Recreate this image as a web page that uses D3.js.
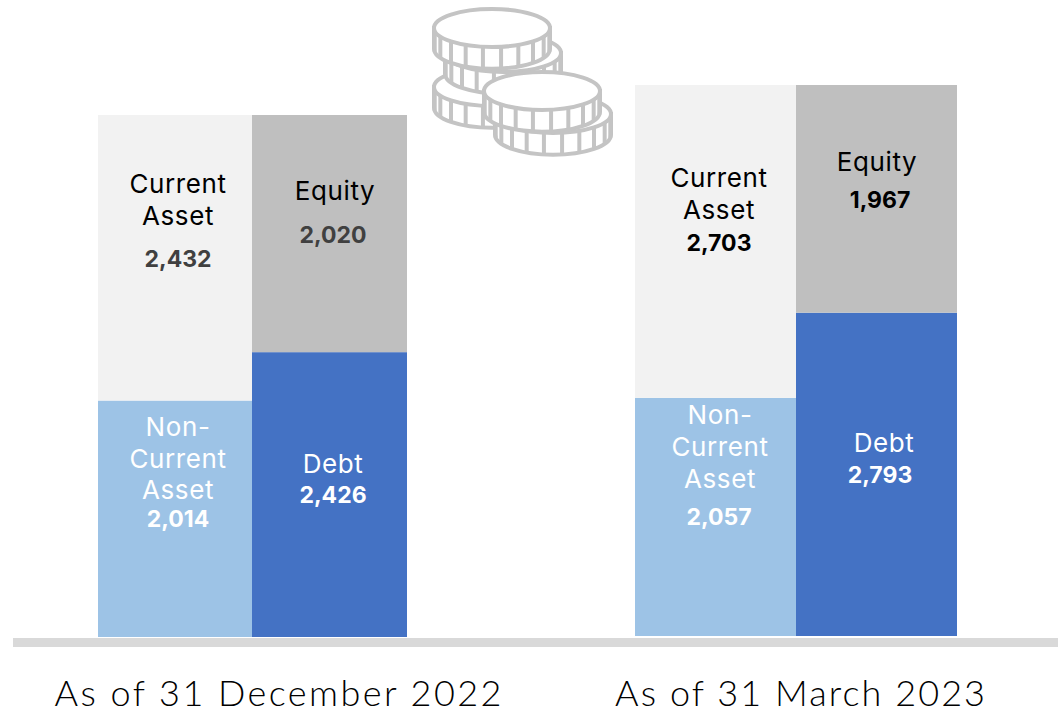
<!DOCTYPE html>
<html><head><meta charset="utf-8">
<script src="https://cdn.jsdelivr.net/npm/d3@7"></script>
<style>html,body{margin:0;background:#fff}svg{display:block}text{font-family:Inter,"Open Sans",sans-serif;text-anchor:middle}</style>
</head><body><svg id="c" width="1058" height="714"></svg>
<script>
const periods = ["As of 31 December 2022", "As of 31 March 2023"];
const nonCurrentAsset = [2014, 2057];
const currentAsset = [2432, 2703];
const debt = [2426, 2793];
const equity = [2020, 1967];
const colors = {cur:"#f2f2f2", non:"#9dc3e6", eq:"#bfbfbf", debt:"#4472c4"};

const svg = d3.select("#c");
const fmt = d3.format(",");
// The two panels in the reference are pasted at slightly different scales
const frames = [
  {y:d3.scaleLinear().domain([0,nonCurrentAsset[0]+currentAsset[0]]).range([637,115]), x0:98, xm:252, x1:407, lx:178, rx:335},
  {y:d3.scaleLinear().domain([0,nonCurrentAsset[1]+currentAsset[1]]).range([636,85]), x0:635, xm:796, x1:957, lx:719, rx:877}
];
const labelLayout = [
  {cur:[["Current",193],["Asset",225]],curV:[267,"#404040"],eq:[["Equity",200]],eqV:[243,"#404040"],
   non:[["Non-",436],["Current",468],["Asset",499]],nonV:527,debt:[["Debt",473]],debtV:503,nx:178,dx:333},
  {cur:[["Current",187],["Asset",219]],curV:[251,"#000"],eq:[["Equity",171]],eqV:[208,"#000"],
   non:[["Non-",424],["Current",456],["Asset",488]],nonV:525,debt:[["Debt",452]],debtV:483,nx:720,dx:880}
];
periods.forEach((p,i)=>{
  const f=frames[i], y=f.y, L=labelLayout[i];
  const total=nonCurrentAsset[i]+currentAsset[i];
  const segs=[
    [f.x0,f.xm,0,nonCurrentAsset[i],colors.non],
    [f.x0,f.xm,nonCurrentAsset[i],total,colors.cur],
    [f.xm,f.x1,0,debt[i],colors.debt],
    [f.xm,f.x1,debt[i],debt[i]+equity[i],colors.eq]
  ];
  svg.append("g").selectAll("rect").data(segs).join("rect")
    .attr("x",d=>d[0]).attr("width",d=>d[1]-d[0])
    .attr("y",d=>y(d[3])).attr("height",d=>y(d[2])-y(d[3])).attr("fill",d=>d[4]);
  const t=(s,x,yy,fill)=>svg.append("text").attr("x",x).attr("y",yy).attr("fill",fill)
    .attr("font-size",26).attr("letter-spacing",0.6).attr("font-weight",400).text(s);
  const n=(s,x,yy,fill)=>svg.append("text").attr("x",x).attr("y",yy).attr("fill",fill)
    .attr("font-size",23).attr("font-weight",700).text(s);
  L.cur.forEach(a=>t(a[0],f.lx,a[1],"#000"));
  n(fmt(currentAsset[i]),f.lx,L.curV[0],L.curV[1]);
  L.eq.forEach(a=>t(a[0],f.rx,a[1],"#000"));
  n(fmt(equity[i]),f.rx+(i?3:-2),L.eqV[0],L.eqV[1]);
  L.non.forEach(a=>t(a[0],L.nx,a[1],"#fff"));
  n(fmt(nonCurrentAsset[i]),L.nx-(i?1:0),L.nonV,"#fff");
  L.debt.forEach(a=>t(a[0],L.dx+(i?4:0),a[1],"#fff"));
  n(fmt(debt[i]),L.dx,L.debtV,"#fff");
});
// baseline
svg.append("rect").attr("x",13).attr("y",638).attr("width",1045).attr("height",9).attr("fill","#d9d9d9");
// period labels
[[278,447],[800,370]].forEach((a,i)=>{
  svg.append("text").attr("x",a[0]).attr("y",706).attr("font-size",36).attr("fill","#000")
    .style("font-family","Lato,sans-serif").attr("font-weight",300)
    .attr("textLength",a[1]).attr("lengthAdjust","spacing").text(periods[i]);
});
// coin icon (decoration)
const coinStroke="#c4c4c4", rx=58, ry=19, h=23;
const coins=[[492,87],[503,53],[492,28],[553,114],[542,91]];
const gc=svg.append("g").attr("fill","#fff").attr("stroke",coinStroke).attr("stroke-width",4);
coins.forEach(([cx,cy])=>{
  gc.append("path").attr("d",`M${cx-rx},${cy}V${cy+h*0.9}A${rx},${ry+1} 0 0 0 ${cx+rx},${cy+h*0.9}V${cy}Z`);
  d3.range(10).forEach(k=>{
    const a=Math.PI*(k+0.5)/10, px=cx-rx*Math.cos(a), py=cy+ry*Math.sin(a);
    gc.append("line").attr("x1",px).attr("x2",px).attr("y1",py).attr("y2",py+h*0.9);
  });
  gc.append("ellipse").attr("cx",cx).attr("cy",cy).attr("rx",rx).attr("ry",ry);
});
</script></body></html>
